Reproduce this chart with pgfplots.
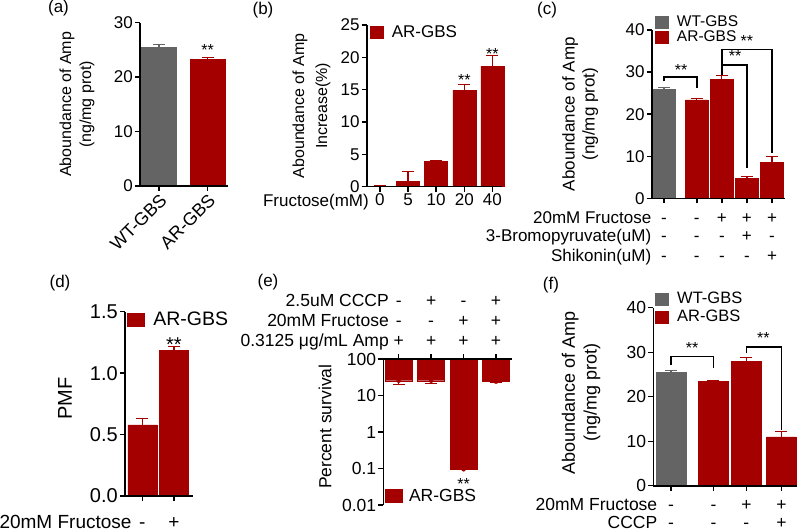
\documentclass[border=0pt]{standalone}
\usepackage{pgfplots}
\pgfplotsset{compat=1.18}
\usepackage{fontspec}
\setmainfont{Liberation Sans}
\definecolor{barred}{RGB}{165,0,0}
\definecolor{bargray}{RGB}{100,100,100}
\newcommand\fs[2]{\fontsize{#1}{#2}\selectfont}
\tikzset{star/.style={font=\fs{16}{16}, inner sep=0pt, yshift=-3.4pt},
         bstar/.style={font=\fs{20}{20}, inner sep=0pt, yshift=-4.2pt},
         tc/.style={anchor=base, inner sep=0pt, font=\fs{17}{17}},
         tl/.style={anchor=base east, inner sep=0pt, font=\fs{17}{17}}}
\pgfplotsset{
  base/.style={
    scale only axis, anchor=south west,
    axis x line*=bottom, axis y line*=left,
    axis line style={line width=1.6pt},
    tick align=outside, major tick length=5pt,
    tick style={black, line width=1.4pt},
    /pgf/number format/assume math mode=true,
    tick label style={font=\fs{17}{17}, inner sep=2pt},
    clip=false, axis on top,
    legend image code/.code={\draw[##1,/tikz/.cd] (0pt,-6pt) rectangle (13pt,6pt);},
    legend cell align=left,
    legend style={draw=none, fill=none, inner sep=0pt, row sep=0pt,
      /tikz/every odd column/.append style={column sep=8pt}},
  },
  rbar/.style={ybar, bar width=#1, bar shift=0pt, fill=barred, draw=barred, line width=0.5pt,
    error bars/.cd, y dir=plus, y explicit,
    error bar style={line width=1.2pt, barred},
    error mark options={rotate=90, line width=1.2pt, mark size=6pt, barred}},
  gbar/.style={ybar, bar width=#1, bar shift=0pt, fill=bargray, draw=bargray, line width=0.5pt,
    error bars/.cd, y dir=plus, y explicit,
    error bar style={line width=1.2pt, bargray},
    error mark options={rotate=90, line width=1.2pt, mark size=6pt, bargray}},
}
\begin{document}
\begin{tikzpicture}
\useasboundingbox (0pt,0pt) rectangle (800pt,531pt);
% ---------------- (a)
\begin{axis}[base, at={(140pt,345pt)}, width=88pt, height=163.3pt,
  xmin=-0.39, xmax=1.42, ymin=0, ymax=30, ytick={0,10,20,30},
  yticklabel style={font=\fs{17}{17}},
  xtick={0,1}, xticklabels={WT-GBS,AR-GBS},
  xticklabel style={rotate=45, anchor=north east, inner sep=1pt, font=\fs{18}{18}},
  ylabel={Aboundance of Amp\\(ng/mg prot)},
  ylabel style={at={(axis description cs:-0.716,0.5)}, anchor=center, align=center, font=\fs{16}{20}},
]
\addplot[gbar=0.72] coordinates {(0,25.55) +- (0,0.5)};
\addplot[rbar=0.72] coordinates {(1,23.3) +- (0,0.3)};
\node[star] at (axis cs:1,25.55) {**};
\end{axis}
% ---------------- (b)
\begin{axis}[base, at={(366.7pt,344.3pt)}, width=135pt, height=161.7pt,
  xmin=-0.47, xmax=4.33, ymin=0, ymax=25, ytick={0,5,10,15,20,25},
  tick label style={font=\fs{17}{17}},
  xtick={0,1,2,3,4}, xticklabels={0,5,10,20,40},
  ylabel={Aboundance of Amp\\Increase(\%)},
  ylabel style={at={(axis description cs:-0.409,0.5)}, anchor=center, align=center, font=\fs{16}{23}},
  legend style={at={(axis description cs:0.025,1)}, anchor=north west, font=\fs{17}{17},
    nodes={inner sep=0pt, text height=12.5pt, text depth=1.5pt}},
]
\addplot[rbar=0.82] coordinates {(0,0.1) +- (0,0.05) (1,0.8) +- (0,1.6) (2,3.9) +- (0,0.2) (3,14.95) +- (0,0.85) (4,18.65) +- (0,1.6)};
\addlegendentry{AR-GBS}
\node[star] at (axis cs:3,16.95) {**};
\node[star] at (axis cs:4,20.97) {**};
\end{axis}
\node[anchor=base east, inner sep=0pt, font=\fs{17}{17}] at (369pt,324.3pt) {Fructose(mM)};
% ---------------- (c)
\begin{axis}[base, at={(651.7pt,332.7pt)}, width=133.3pt, height=168.3pt,
  xmin=-0.49, xmax=4.83, ymin=0, ymax=40, ytick={0,10,20,30,40},
  yticklabel style={font=\fs{17}{17}},
  xtick={0,1.31,2.31,3.31,4.31}, xticklabels={},
  ylabel={Aboundance of Amp\\(ng/mg prot)},
  ylabel style={at={(axis description cs:-0.536,0.5)}, anchor=center, align=center, font=\fs{17}{20}},
  legend style={at={(axis description cs:0.025,1.089)}, anchor=north west, font=\fs{15.5}{15.5},
    nodes={inner sep=0.25pt, text height=11.5pt, text depth=3pt}},
]
\addplot[gbar=0.9] coordinates {(0,25.8) +- (0,0.6)};
\addplot[rbar=0.9] coordinates {(1.31,23.4) +- (0,0.3) (2.31,28.2) +- (0,0.9) (3.31,4.76) +- (0,0.4) (4.31,8.57) +- (0,1.3)};
\legend{WT-GBS,AR-GBS}
\draw[line width=1.4pt] (axis cs:0,27.8) |- (axis cs:1.31,28.8) -- (axis cs:1.31,26.2);
\draw[line width=1.4pt] (axis cs:2.31,29.3) |- (axis cs:3.31,31.7) -- (axis cs:3.31,7.2);
\draw[line width=1.4pt] (axis cs:2.31,31.7) |- (axis cs:4.31,35.3) -- (axis cs:4.31,10.8);
\node[star] at (axis cs:0.68,31.3) {**};
\node[star] at (axis cs:2.84,34.6) {**};
\node[star] at (axis cs:3.31,38.3) {**};
% table
\node[tl, yshift=-25pt]   at (axis cs:-0.5,0) {20mM Fructose};
\node[tl, yshift=-43.4pt] at (axis cs:-0.5,0) {3-Bromopyruvate(uM)};
\node[tl, yshift=-62.7pt] at (axis cs:-0.5,0) {Shikonin(uM)};
\node[tc, yshift=-25pt] at (axis cs:0,0) {-};
\node[tc, yshift=-25pt] at (axis cs:1.31,0) {-};
\node[tc, yshift=-25pt] at (axis cs:2.31,0) {+};
\node[tc, yshift=-25pt] at (axis cs:3.31,0) {+};
\node[tc, yshift=-25pt] at (axis cs:4.31,0) {+};
\node[tc, yshift=-43.4pt] at (axis cs:0,0) {-};
\node[tc, yshift=-43.4pt] at (axis cs:1.31,0) {-};
\node[tc, yshift=-43.4pt] at (axis cs:2.31,0) {-};
\node[tc, yshift=-43.4pt] at (axis cs:3.31,0) {+};
\node[tc, yshift=-43.4pt] at (axis cs:4.31,0) {-};
\node[tc, yshift=-62.7pt] at (axis cs:0,0) {-};
\node[tc, yshift=-62.7pt] at (axis cs:1.31,0) {-};
\node[tc, yshift=-62.7pt] at (axis cs:2.31,0) {-};
\node[tc, yshift=-62.7pt] at (axis cs:3.31,0) {-};
\node[tc, yshift=-62.7pt] at (axis cs:4.31,0) {+};
\end{axis}
% ---------------- (d)
\begin{axis}[base, at={(125pt,35pt)}, width=67.7pt, height=184.3pt,
  xmin=-0.546, xmax=1.59, ymin=0, ymax=1.5, ytick={0,0.5,1,1.5}, yticklabels={0.0,0.5,1.0,1.5},
  yticklabel style={font=\fs{20}{20}},
  xtick={0,1}, xticklabels={},
  ylabel={PMF},
  ylabel style={at={(axis description cs:-0.886,0.53)}, anchor=center, font=\fs{20}{20}},
  legend image code/.code={\draw[#1,/tikz/.cd] (0pt,-6.5pt) rectangle (17pt,6.5pt);},
  legend style={at={(axis description cs:0.025,1)}, anchor=north west, font=\fs{19.5}{19.5},
    nodes={inner sep=0pt, text height=14pt, text depth=1.5pt},
    /tikz/every odd column/.append style={column sep=9pt}},
]
\addplot[rbar=0.915] coordinates {(0,0.578) +- (0,0.054) (1,1.188) +- (0,0.032)};
\addlegendentry{AR-GBS}
\node[bstar] at (axis cs:1,1.27) {**};
\node[tl, font=\fs{19}{19}, yshift=-32.3pt] at (axis cs:-0.334,0) {20mM Fructose};
\node[tc, font=\fs{19}{19}, yshift=-32.3pt] at (axis cs:0,0) {-};
\node[tc, font=\fs{19}{19}, yshift=-32.3pt] at (axis cs:1,0) {+};
\end{axis}
% ---------------- (e)
\begin{axis}[base, at={(383.3pt,26pt)}, width=128.3pt, height=146pt,
  ymode=log, ymin=0.01, ymax=100, ytick={0.01,0.1,1,10,100}, yticklabels={0.01,0.1,1,10,100},
  yminorticks=false,
  yticklabel style={font=\fs{17.5}{17.5}},
  axis x line*=top, xmin=-0.474, xmax=3.48,
  xtick={0,1,2,3}, xticklabels={},
  ylabel={Percent survival},
  ylabel style={at={(axis description cs:-0.454,0.536)}, anchor=center, font=\fs{17.5}{20}},
  legend image code/.code={\draw[#1,/tikz/.cd] (0pt,-6.5pt) rectangle (16.5pt,6.5pt);},
  legend style={at={(axis description cs:0.013,0.012)}, anchor=south west, font=\fs{17.5}{17.5},
    nodes={inner sep=0pt, text height=12.5pt, text depth=1.5pt},
    /tikz/every odd column/.append style={column sep=7pt}},
]
\addplot[fill=barred, draw=barred] coordinates {(-0.415,100) (-0.415,25.4) (0.415,25.4) (0.415,100)
  (0.585,100) (0.585,25.4) (1.415,25.4) (1.415,100)
  (1.585,100) (1.585,0.095) (2.415,0.095) (2.415,100)
  (2.585,100) (2.585,23.9) (3.415,23.9) (3.415,100)} -- cycle;
\addlegendentry{AR-GBS}
\addplot[forget plot, barred, only marks, mark=none, error bars/.cd, y dir=minus, y explicit,
  error bar style={line width=1.2pt, barred}, error mark options={rotate=90, line width=1.2pt, mark size=6pt, barred}]
  coordinates {(0,25.4) -= (0,5.1) (1,25.4) -= (0,3.8) (2,0.095) -= (0,0.003) (3,23.9) -= (0,1.4)};
\node[star] at (axis cs:2,0.048) {**};
\node[tl, font=\fs{17.5}{17.5}, yshift=52.3pt] at (axis cs:-0.298,100) {2.5uM CCCP};
\node[tl, font=\fs{17.5}{17.5}, yshift=32.3pt] at (axis cs:-0.298,100) {20mM Fructose};
\node[tl, font=\fs{17.5}{17.5}, yshift=12.3pt] at (axis cs:-0.298,100) {0.3125 μg/mL Amp};
\node[tc, font=\fs{17.5}{17.5}, yshift=52.3pt] at (axis cs:0,100) {-};
\node[tc, font=\fs{17.5}{17.5}, yshift=52.3pt] at (axis cs:1,100) {+};
\node[tc, font=\fs{17.5}{17.5}, yshift=52.3pt] at (axis cs:2,100) {-};
\node[tc, font=\fs{17.5}{17.5}, yshift=52.3pt] at (axis cs:3,100) {+};
\node[tc, font=\fs{17.5}{17.5}, yshift=32.3pt] at (axis cs:0,100) {-};
\node[tc, font=\fs{17.5}{17.5}, yshift=32.3pt] at (axis cs:1,100) {-};
\node[tc, font=\fs{17.5}{17.5}, yshift=32.3pt] at (axis cs:2,100) {+};
\node[tc, font=\fs{17.5}{17.5}, yshift=32.3pt] at (axis cs:3,100) {+};
\node[tc, font=\fs{17.5}{17.5}, yshift=12.3pt] at (axis cs:0,100) {+};
\node[tc, font=\fs{17.5}{17.5}, yshift=12.3pt] at (axis cs:1,100) {+};
\node[tc, font=\fs{17.5}{17.5}, yshift=12.3pt] at (axis cs:2,100) {+};
\node[tc, font=\fs{17.5}{17.5}, yshift=12.3pt] at (axis cs:3,100) {+};
\end{axis}
% ---------------- (f)
\begin{axis}[base, at={(653.3pt,45.3pt)}, width=143.7pt, height=178pt,
  xmin=-0.52, xmax=3.71, ymin=0, ymax=40, ytick={0,10,20,30,40},
  yticklabel style={font=\fs{17.5}{17.5}},
  xtick={0,1.25,2.22,3.25}, xticklabels={},
  ylabel={Aboundance of Amp\\(ng/mg prot)},
  ylabel style={at={(axis description cs:-0.503,0.521)}, anchor=center, align=center, font=\fs{18}{21.7}},
  legend style={at={(axis description cs:0.012,1.0994)}, anchor=north west, font=\fs{16.5}{16.5},
    nodes={inner sep=0.5pt, text height=13pt, text depth=4pt}},
]
\addplot[gbar=0.87] coordinates {(0,25.6) +- (0,0.25)};
\addplot[rbar=0.87] coordinates {(1.25,23.4) +- (0,0.2) (2.22,28.0) +- (0,0.85) (3.25,11.0) +- (0,1.1)};
\legend{WT-GBS,AR-GBS}
\draw[line width=1.4pt] (axis cs:0,27.1) |- (axis cs:1.25,29.0) -- (axis cs:1.25,26.4);
\draw[line width=1.4pt] (axis cs:2.22,29.75) |- (axis cs:3.25,31.2) -- (axis cs:3.25,12.5);
\node[star] at (axis cs:0.62,31.6) {**};
\node[star] at (axis cs:2.72,33.9) {**};
\node[tl, font=\fs{17.5}{17.5}, yshift=-25pt] at (axis cs:-0.398,0) {20mM Fructose};
\node[tl, font=\fs{17.5}{17.5}, yshift=-42.6pt] at (axis cs:-0.398,0) {CCCP};
\node[tc, font=\fs{17.5}{17.5}, yshift=-25pt] at (axis cs:0,0) {-};
\node[tc, font=\fs{17.5}{17.5}, yshift=-25pt] at (axis cs:1.25,0) {-};
\node[tc, font=\fs{17.5}{17.5}, yshift=-25pt] at (axis cs:2.22,0) {+};
\node[tc, font=\fs{17.5}{17.5}, yshift=-25pt] at (axis cs:3.25,0) {+};
\node[tc, font=\fs{17.5}{17.5}, yshift=-42.6pt] at (axis cs:0,0) {-};
\node[tc, font=\fs{17.5}{17.5}, yshift=-42.6pt] at (axis cs:1.25,0) {-};
\node[tc, font=\fs{17.5}{17.5}, yshift=-42.6pt] at (axis cs:2.22,0) {-};
\node[tc, font=\fs{17.5}{17.5}, yshift=-42.6pt] at (axis cs:3.25,0) {+};
\end{axis}
% ---------------- panel labels
\node[font=\fs{17}{17}] at (58.5pt,522.5pt) {(a)};
\node[font=\fs{17}{17}] at (263pt,521pt) {(b)};
\node[font=\fs{17}{17}] at (547pt,521pt) {(c)};
\node[font=\fs{17}{17}] at (60pt,247.5pt) {(d)};
\node[font=\fs{17}{17}] at (268pt,249pt) {(e)};
\node[font=\fs{17}{17}] at (551pt,246pt) {(f)};
\end{tikzpicture}
\end{document}
